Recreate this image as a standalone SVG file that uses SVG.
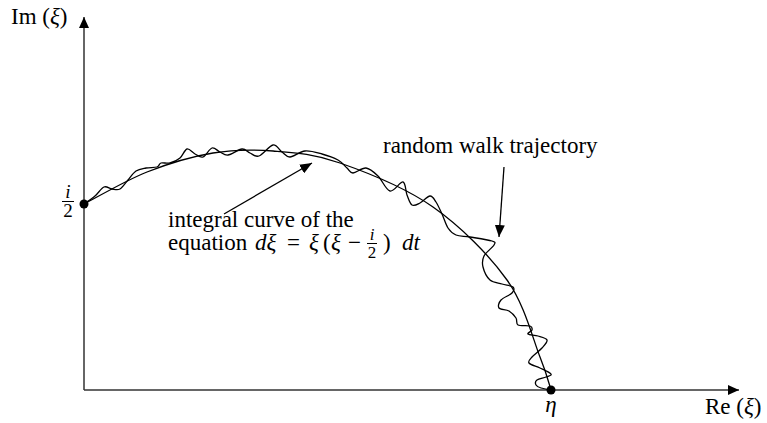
<svg xmlns="http://www.w3.org/2000/svg" width="767" height="423" viewBox="0 0 767 423">
<style>
  text { font-family: "Liberation Serif", "Times New Roman", serif; font-size: 23px; fill: #000; }
  .it { font-style: italic; }
  .frac { font-size: 17px; }
  .frac-big { font-size: 19px; }
  .axis { stroke: #333; stroke-width: 1.5; fill: none; }
  .curve { stroke: #000; stroke-width: 1.3; fill: none; stroke-linejoin: round; }
  .conn { stroke: #000; stroke-width: 1.3; fill: none; }
  .bar { stroke: #000; stroke-width: 1; }
</style>
<defs>
  <marker id="ah" markerWidth="12" markerHeight="10" refX="12" refY="5" orient="auto" markerUnits="userSpaceOnUse">
    <path d="M0,0 L12,5 L0,10 Z" fill="#000"/>
  </marker>
  <marker id="axh" markerWidth="11" markerHeight="10" refX="11" refY="5" orient="auto" markerUnits="userSpaceOnUse">
    <path d="M0,0 L11,5 L0,10 Z" fill="#000"/>
  </marker>
</defs>
<rect width="767" height="423" fill="#fff"/>

<g id="axes">
  <line class="axis" x1="84" y1="390" x2="84" y2="17" marker-end="url(#axh)"/>
  <line class="axis" x1="84" y1="390" x2="739" y2="390" marker-end="url(#axh)"/>
  <text x="11" y="24">Im (<tspan class="it">ξ</tspan>)</text>
  <text x="705" y="414">Re (<tspan class="it">ξ</tspan>)</text>
</g>

<g id="integral-curve">
  <path class="curve" d="M84,204 C94.5,198.7 125.5,180.5 147,172 C168.5,163.5 192,156.5 213,153 C234,149.5 251.8,149.3 273,151 C294.2,152.7 313.3,153.7 340,163 C366.7,172.3 405.2,187.5 433,207 C460.8,226.5 489.2,255 507,280 C524.8,305 532.7,338.7 540,357 C547.3,375.3 549.2,384.5 551,390"/>
</g>

<g id="random-walk">
  <path class="curve" d="M84,204 C85.8,202.7 91.7,198.8 95,196 S101.2,188.2 104,187 S109.3,188.7 112,189 S117.3,190.5 120,189 S125.3,183 128,180 S133,173 136,171 S142.5,168.7 146,168 S154.5,167.8 157,167 S158.8,163.7 161,163 S166.8,163.8 170,163 S177.2,160.3 180,158 S184.5,149.7 187,149 S192.3,152.7 195,154 S200.2,158 203,157 S209.2,148.8 212,148 S217.3,150.8 220,152 S224.3,155.5 228,155 S238.3,149.3 242,149 S247.2,151.8 250,153 S255.2,157.3 259,156 S269.2,145.7 273,145 S279.2,150 282,152 S286.2,157.2 290,157 S299.7,151.5 305,151 S316.5,152.5 322,154 S333.8,157.7 338,160 S344.5,165.8 347,168 S349.8,173 353,173 S361.8,167.5 366,168 S374,172.2 378,176 S385.8,190 390,191 S400.2,181.3 403,182 S405.5,191.2 407,195 S409.8,203.7 412,205 S417,204.5 420,203 S427.3,196.2 430,196 S434,199 436,202 S440,209.7 442,214 S445.7,224.5 448,228 S452.3,233.5 456,235 S464,236 470,237 S488,239.7 492,241 S495.3,242.5 494,245 S485.8,252.3 484,256 S482,263 483,267 S486.8,277.2 490,280 S498.2,282.8 502,284 S511.3,285.5 513,287 S514,290.8 512,293 S503.2,297.5 501,300 S497.7,306.2 499,308 S506.2,309.3 509,311 S514.5,315.7 516,318 S515.7,323.7 518,325 S527.7,325.2 530,326 S532.3,328.7 532,330 S527,333 528,334 S534.8,335 538,336 S546.3,338 547,340 S544.5,345.2 542,348 S534.2,354.5 532,357 S527.7,361.2 529,363 S536.3,366.2 540,368 S550,372.5 551,374 S548.3,376 546,377 S538.7,378.7 537,380 S535.3,383.7 536,385 S538.5,387.2 541,388 S549.3,389.7 551,390"/>
</g>

<g id="connectors">
  <line class="conn" x1="224" y1="214" x2="312" y2="163" marker-end="url(#ah)"/>
  <line class="conn" x1="504" y1="167" x2="499" y2="237" marker-end="url(#ah)"/>
</g>

<g id="node-start">
  <circle cx="84" cy="204" r="4.5" fill="#000"/>
  <text class="it frac-big" x="68" y="198" text-anchor="middle">i</text>
  <line class="bar" x1="62" y1="201.5" x2="74" y2="201.5"/>
  <text class="frac-big" x="68" y="217" text-anchor="middle">2</text>
</g>

<g id="node-end">
  <circle cx="551" cy="390" r="4.5" fill="#000"/>
  <text class="it" x="551" y="412" text-anchor="middle">η</text>
</g>

<g id="label-random">
  <text x="383" y="153">random walk trajectory</text>
</g>

<g id="label-integral">
  <text x="168" y="227">integral curve of the</text>
  <text x="168" y="250">equation</text>
  <text class="it" x="255" y="250">dξ</text>
  <text x="287" y="250">=</text>
  <text class="it" x="309" y="250">ξ</text>
  <text x="323" y="250">(</text>
  <text class="it" x="331" y="250">ξ</text>
  <text x="348" y="250">−</text>
  <text class="it frac" x="372" y="240" text-anchor="middle">i</text>
  <line class="bar" x1="367" y1="243.5" x2="377" y2="243.5"/>
  <text class="frac" x="372" y="258" text-anchor="middle">2</text>
  <text x="383" y="250">)</text>
  <text class="it" x="402" y="250">dt</text>
</g>
</svg>
